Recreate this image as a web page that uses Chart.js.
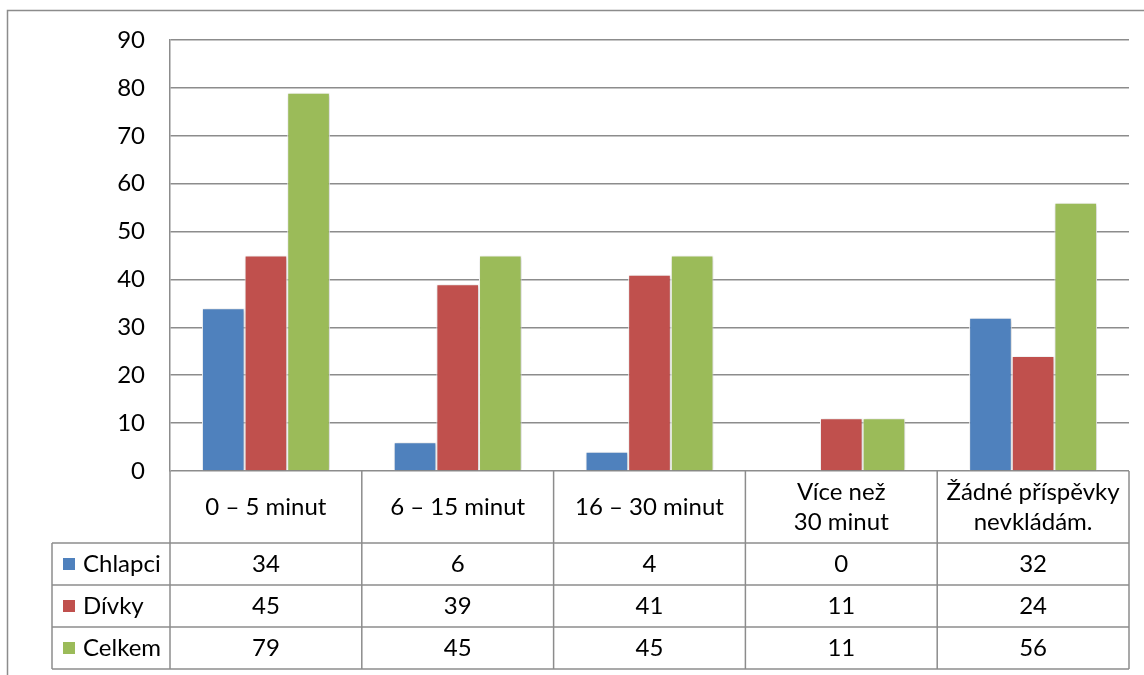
<!DOCTYPE html>
<html>
<head>
<meta charset="utf-8">
<script src="https://cdn.jsdelivr.net/npm/chart.js@4/dist/chart.umd.min.js"></script>
<style>
  body { margin: 0; background: #fff; }
  canvas { display: block; }
</style>
</head>
<body>
<canvas id="barChart" width="1144" height="675"></canvas>
<script>
/* data */
const categories = ['0 – 5 minut', '6 – 15 minut', '16 – 30 minut', ['Více než', '30 minut'], ['Žádné příspěvky', 'nevkládám.']];
const seriesNames = ['Chlapci', 'Dívky', 'Celkem'];
const chlapci = [34, 6, 4, 0, 32];
const divky = [45, 39, 41, 11, 24];
const celkem = [79, 45, 45, 11, 56];
const yTicks = [0, 10, 20, 30, 40, 50, 60, 70, 80, 90];

const colors = ['#4F81BD', '#C0504D', '#9BBB59'];
const gridColor = '#8c8c8c';
const fontFamily = 'Lato, "Noto Sans", sans-serif';
const fontSize = 24;

/* data table under the plot */
const dataTable = {
    id: 'dataTable',
    afterDraw(chart) {
        const ctx = chart.ctx;
        const x = chart.scales.x;
        const area = chart.chartArea;
        const headTop = area.bottom;
        const headH = 72, rowH = 42;
        const legendLeft = 52;
        const series = chart.data.datasets;

        // category boundaries
        const edges = [area.left];
        for (let i = 0; i < categories.length - 1; i++) {
            edges.push((x.getPixelForValue(i) + x.getPixelForValue(i + 1)) / 2);
        }
        edges.push(area.right);

        ctx.save();
        ctx.strokeStyle = gridColor;
        ctx.lineWidth = 1.5;
        const bottom = headTop + headH + rowH * series.length;
        // horizontal lines
        for (let r = 0; r <= series.length; r++) {
            const y = headTop + headH + rowH * r;
            ctx.beginPath();
            ctx.moveTo(legendLeft, y);
            ctx.lineTo(area.right, y);
            ctx.stroke();
        }
        // vertical lines
        edges.forEach(e => {
            ctx.beginPath();
            ctx.moveTo(e, headTop);
            ctx.lineTo(e, bottom);
            ctx.stroke();
        });
        ctx.beginPath();
        ctx.moveTo(legendLeft, headTop + headH);
        ctx.lineTo(legendLeft, bottom);
        ctx.stroke();

        // outer frame
        ctx.beginPath();
        ctx.moveTo(7.5, 680);
        ctx.lineTo(7.5, 10.5);
        ctx.lineTo(1150, 10.5);
        ctx.stroke();

        ctx.fillStyle = '#000';
        ctx.font = fontSize + 'px ' + fontFamily;
        ctx.textAlign = 'center';
        ctx.textBaseline = 'middle';
        // category header
        categories.forEach((c, i) => {
            const cx = x.getPixelForValue(i);
            const lines = Array.isArray(c) ? c : [c];
            const cy = headTop + headH / 2;
            lines.forEach((l, j) => {
                ctx.fillText(l, cx, cy + (j - (lines.length - 1) / 2) * 30);
            });
        });
        // value rows
        series.forEach((ds, r) => {
            const cy = headTop + headH + rowH * r + rowH / 2;
            ds.data.forEach((v, i) => {
                ctx.fillText(String(v), x.getPixelForValue(i), cy);
            });
            ctx.fillStyle = ds.backgroundColor;
            ctx.fillRect(63, cy - 6, 12, 12);
            ctx.fillStyle = '#000';
            ctx.textAlign = 'left';
            ctx.fillText(ds.label, 83, cy);
            ctx.textAlign = 'center';
        });
        ctx.restore();
    }
};

const barShadow = {
    id: 'barShadow',
    beforeDatasetsDraw(chart) {
        const ctx = chart.ctx;
        ctx.save();
        ctx.shadowColor = 'rgba(0,0,0,0.22)';
        ctx.shadowBlur = 4;
        ctx.shadowOffsetX = 1;
        ctx.shadowOffsetY = 1;
    },
    afterDatasetsDraw(chart) {
        chart.ctx.restore();
    }
};

const ctx1 = document.getElementById('barChart').getContext('2d');
const myChart = new Chart(ctx1, {
    type: 'bar',
    data: {
        labels: categories,
        datasets: [chlapci, divky, celkem].map((d, i) => ({
            label: seriesNames[i],
            data: d,
            backgroundColor: colors[i],
            borderColor: '#ffffff',
            borderWidth: 1,
            categoryPercentage: 0.667,
            barPercentage: 1
        }))
    },
    options: {
        responsive: false,
        animation: false,
        layout: {
            padding: { top: 40, right: 15, bottom: 204, left: 0 }
        },
        plugins: {
            legend: { display: false },
            tooltip: { enabled: false }
        },
        scales: {
            x: {
                display: false
            },
            y: {
                min: 0,
                max: 90,
                afterFit(scale) { scale.width = 170; },
                afterBuildTicks(scale) { scale.ticks = yTicks.map(v => ({ value: v })); },
                grid: { color: gridColor, lineWidth: 1.5, drawTicks: false },
                border: { display: true, color: gridColor, width: 1.5 },
                ticks: {
                    padding: 25,
                    color: '#000',
                    font: { family: fontFamily, size: fontSize }
                }
            }
        }
    },
    plugins: [barShadow, dataTable]
});
</script>
</body>
</html>
